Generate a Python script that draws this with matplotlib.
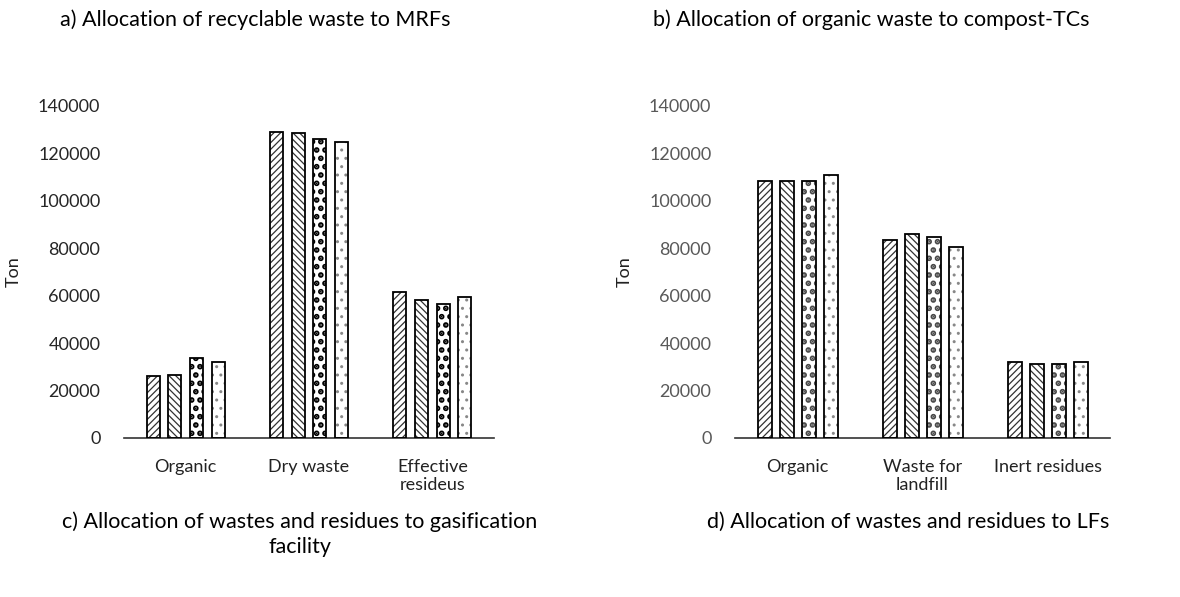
import matplotlib as mpl
mpl.use('Agg')
import matplotlib.pyplot as plt
import numpy as np

# panel a) recyclable waste to MRFs
cats_a = ['Organic', 'Dry waste', 'Effective\nresideus']
a_s1 = [26000, 128900, 61600]
a_s2 = [26600, 128800, 58100]
a_s3 = [33900, 126000, 56600]
a_s4 = [32000, 124800, 59600]

# panel b) organic waste to compost-TCs
cats_b = ['Organic', 'Waste for\nlandfill', 'Inert residues']
b_s1 = [108300, 83600, 32200]
b_s2 = [108300, 86200, 31300]
b_s3 = [108300, 84900, 31300]
b_s4 = [111100, 80700, 31900]

yticks = [0, 20000, 40000, 60000, 80000, 100000, 120000, 140000]

FONT = 'Lato'
W, H = 1180, 597


def hatched_bars(ax, x, vals, width, hatch, hcolor, hlw):
    # hatch layer first, black outline drawn on top
    bars = ax.bar(x, vals, width, color='white', edgecolor=hcolor,
                  linewidth=0, hatch=hatch, zorder=2)
    for b in bars:
        if hasattr(b, 'set_hatch_linewidth'):
            b.set_hatch_linewidth(hlw)
    ax.bar(x, vals, width, fill=False, edgecolor='black', linewidth=1.3, zorder=3)


def panel(rect, cats, series, width, tick_color, dot3):
    ax = fig.add_axes(rect)
    x = np.arange(len(cats))
    pitch = 0.176
    styles = [('/////', '#333333', 0.9),
              ('\\\\\\\\\\', '#333333', 0.9),
              ('..', dot3, 2.8),
              ('..', '#888888', 1.0)]
    for i, (vals, st) in enumerate(zip(series, styles)):
        hatched_bars(ax, x + (i - 1.5) * pitch, vals, width, *st)
    ax.set_xlim(-0.5, len(cats) - 0.5)
    ax.set_ylim(0, 140000)
    ax.set_yticks(yticks)
    ax.set_yticklabels([str(v) for v in yticks], fontsize=13, color=tick_color,
                       family=FONT)
    ax.set_xticks(x)
    ax.set_xticklabels(cats, fontsize=13, color='#222222', family=FONT)
    ax.tick_params(length=0, axis='x', pad=15)
    ax.tick_params(length=0, axis='y', pad=17)
    for s in ['top', 'right', 'left']:
        ax.spines[s].set_visible(False)
    ax.spines['bottom'].set_color('#333333')
    ax.spines['bottom'].set_linewidth(1.2)
    ax.set_ylabel('Ton', fontsize=13, family=FONT, color='#222222', labelpad=12)
    return ax


fig = plt.figure(figsize=(W / 100, H / 100), dpi=100)

bottom = 1 - 438 / H
top = 1 - 106 / H
panel([124 / W, bottom, 370 / W, top - bottom], cats_a,
      [a_s1, a_s2, a_s3, a_s4], 0.105, '#262626', 'black')
panel([735 / W, bottom, 375 / W, top - bottom], cats_b,
      [b_s1, b_s2, b_s3, b_s4], 0.112, '#595959', '#4a4a4a')

tkw = dict(fontsize=15.5, family=FONT, color='black', ha='center', va='center')
fig.text(255 / W, 1 - 20 / H, 'a) Allocation of recyclable waste to MRFs', **tkw)
fig.text(871 / W, 1 - 20 / H, 'b) Allocation of organic waste to compost-TCs', **tkw)
fig.text(300 / W, 1 - 534 / H,
         'c) Allocation of wastes and residues to gasification\nfacility',
         multialignment='center', linespacing=1.3, **tkw)
fig.text(908 / W, 1 - 522 / H, 'd) Allocation of wastes and residues to LFs', **tkw)

fig.savefig('out.png', dpi=100)
